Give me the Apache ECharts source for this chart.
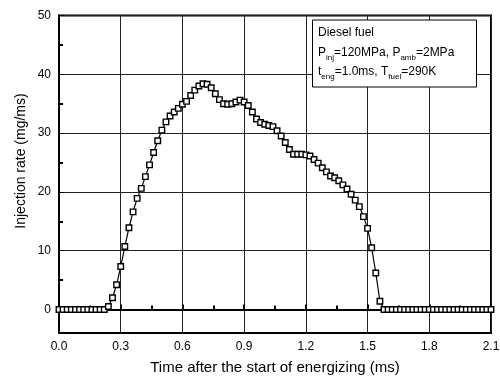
<!DOCTYPE html>
<html>
<head>
<meta charset="utf-8">
<style>
  html, body { margin: 0; padding: 0; background: #fff; }
  #main { width: 500px; height: 376px; }
</style>
<script src="https://cdn.jsdelivr.net/npm/echarts@6/dist/echarts.min.js"></script>
</head>
<body>
<div id="main"></div>
<script>
// sample times (ms) and injection rate (mg/ms)
var timeMs = [
    0.00, 0.02, 0.04, 0.06, 0.08, 0.10, 0.12, 0.14, 0.16, 0.18,
    0.20, 0.22, 0.24, 0.26, 0.28, 0.30, 0.32, 0.34, 0.36, 0.38,
    0.40, 0.42, 0.44, 0.46, 0.48, 0.50, 0.52, 0.54, 0.56, 0.58,
    0.60, 0.62, 0.64, 0.66, 0.68, 0.70, 0.72, 0.74, 0.76, 0.78,
    0.80, 0.82, 0.84, 0.86, 0.88, 0.90, 0.92, 0.94, 0.96, 0.98,
    1.00, 1.02, 1.04, 1.06, 1.08, 1.10, 1.12, 1.14, 1.16, 1.18,
    1.20, 1.22, 1.24, 1.26, 1.28, 1.30, 1.32, 1.34, 1.36, 1.38,
    1.40, 1.42, 1.44, 1.46, 1.48, 1.50, 1.52, 1.54, 1.56, 1.58,
    1.60, 1.62, 1.64, 1.66, 1.68, 1.70, 1.72, 1.74, 1.76, 1.78,
    1.80, 1.82, 1.84, 1.86, 1.88, 1.90, 1.92, 1.94, 1.96, 1.98,
    2.00, 2.02, 2.04, 2.06, 2.08, 2.10
];
var injectionRate = [
    0, 0, 0, 0, 0, 0, 0, 0, 0, 0,
    0, 0, 0.5, 2.0, 4.2, 7.3, 10.7, 13.9, 16.6, 18.9,
    20.6, 22.6, 24.6, 26.7, 28.7, 30.5, 31.9, 32.9, 33.6, 34.2,
    34.9, 35.4, 36.4, 37.3, 38.0, 38.4, 38.3, 37.7, 36.7, 35.7,
    35.0, 34.9, 35.0, 35.3, 35.6, 35.3, 34.7, 33.6, 32.4, 31.8,
    31.5, 31.3, 31.1, 30.4, 29.5, 28.4, 27.2, 26.4, 26.4, 26.4,
    26.3, 26.1, 25.5, 24.9, 24.1, 23.4, 22.7, 22.4, 21.9, 21.2,
    20.5, 19.6, 18.6, 17.5, 15.8, 13.8, 10.5, 6.2, 1.4, 0,
    0, 0, 0, 0, 0, 0, 0, 0, 0, 0,
    0, 0, 0, 0, 0, 0, 0, 0, 0, 0,
    0, 0, 0, 0, 0, 0
];
var yMajorTicks = [0, 10, 20, 30, 40, 50];
var yMinorTicks = [5, 15, 25, 35, 45];

var fontFamily = '"Liberation Sans", Arial, sans-serif';

var points = [];
for (var i = 0; i < timeMs.length; i++) {
    points.push([timeMs[i], injectionRate[i]]);
}

var myChart = echarts.init(document.getElementById('main'));

option = {
    backgroundColor: '#fff',
    animation: false,
    textStyle: {
        fontFamily: fontFamily
    },
    grid: {
        left: 59,
        right: 9,
        top: 15.5,
        bottom: 43,
        show: true,
        borderColor: '#000',
        borderWidth: 2,
        outerBoundsMode: 'none'
    },
    xAxis: {
        type: 'value',
        min: 0,
        max: 2.1,
        interval: 0.3,
        name: 'Time after the start of energizing (ms)',
        nameLocation: 'middle',
        nameGap: 27,
        nameTextStyle: {
            color: '#000',
            fontSize: 15,
            fontFamily: fontFamily
        },
        axisLine: {
            lineStyle: { color: '#000', width: 2 }
        },
        axisTick: {
            inside: true,
            length: 5,
            lineStyle: { color: '#000', width: 2 }
        },
        minorTick: {
            show: true,
            splitNumber: 2,
            length: 4,
            lineStyle: { color: '#000', width: 2 }
        },
        axisLabel: {
            color: '#000',
            fontSize: 12,
            margin: 8,
            formatter: function (v) { return v.toFixed(1); }
        },
        splitLine: {
            show: true,
            lineStyle: { color: '#222', width: 1 }
        }
    },
    yAxis: [
        {
            type: 'value',
            min: -4,
            max: 50,
            axisLine: {
                lineStyle: { color: '#000', width: 2 }
            },
            axisTick: {
                inside: true,
                length: 5,
                customValues: yMajorTicks,
                lineStyle: { color: '#000', width: 1 }
            },
            axisLabel: {
                color: '#000',
                fontSize: 12,
                margin: 8,
                customValues: yMajorTicks
            },
            splitLine: {
                show: true,
                lineStyle: { color: '#222', width: 1 }
            }
        },
        {
            type: 'value',
            min: -4,
            max: 50,
            position: 'left',
            axisLine: { show: false },
            axisTick: {
                inside: true,
                length: 4,
                customValues: yMinorTicks,
                lineStyle: { color: '#000', width: 2 }
            },
            axisLabel: { show: false },
            splitLine: { show: false }
        }
    ],
    graphic: [
        {
            type: 'text',
            x: 21,
            y: 161,
            rotation: Math.PI / 2,
            style: {
                text: 'Injection rate (mg/ms)',
                fill: '#000',
                fontSize: 14,
                fontFamily: fontFamily,
                align: 'center',
                verticalAlign: 'middle'
            }
        },
        {
            type: 'rect',
            shape: { x: 312.5, y: 20, width: 164, height: 67 },
            style: { fill: '#fff', stroke: '#000', lineWidth: 1 },
            z: 100
        },
        {
            type: 'text',
            x: 318,
            y: 23.5,
            z: 101,
            style: {
                text: '{n|Diesel fuel}\n' +
                      '{n|P}{s|inj}{n|=120MPa, P}{s|amb}{n|=2MPa}\n' +
                      '{n|t}{s|eng}{n|=1.0ms, T}{s|fuel}{n|=290K}',
                fill: '#000',
                fontFamily: fontFamily,
                fontSize: 12,
                rich: {
                    n: { fontSize: 12, lineHeight: 19.2, fill: '#000', fontFamily: fontFamily },
                    s: { fontSize: 8, lineHeight: 6, verticalAlign: 'bottom', fill: '#000', fontFamily: fontFamily }
                }
            }
        }
    ],
    series: [
        {
            name: 'Injection rate',
            type: 'line',
            data: points,
            symbol: 'rect',
            symbolSize: 5.5,
            showAllSymbol: true,
            lineStyle: { color: '#000', width: 1.2 },
            itemStyle: {
                color: '#fff',
                borderColor: '#000',
                borderWidth: 1.4
            },
            z: 10
        }
    ]
};
myChart.setOption(option);
</script>
</body>
</html>
